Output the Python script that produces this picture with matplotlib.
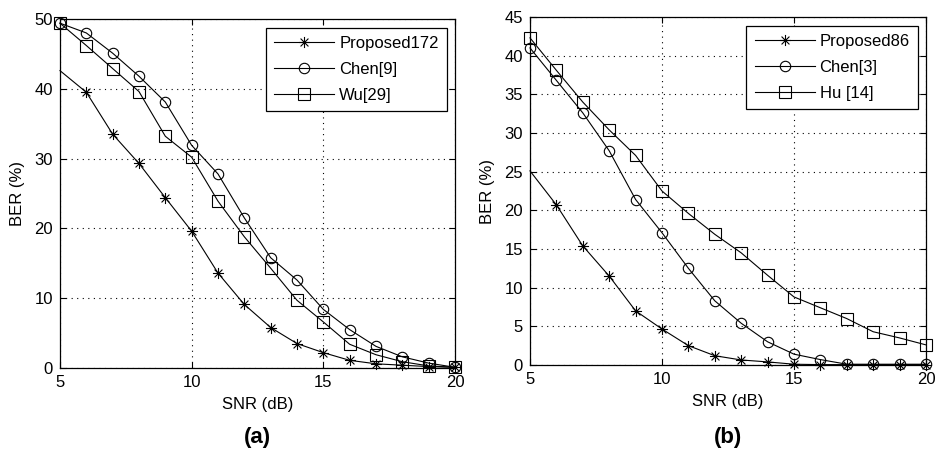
import matplotlib
matplotlib.use("Agg")
import matplotlib.pyplot as plt
from matplotlib.path import Path

plt.rcParams['font.family'] = ['Liberation Sans', 'DejaVu Sans']

snr = list(range(5, 21))

# Panel (a)
a_proposed = [42.6, 39.5, 33.5, 29.3, 24.4, 19.6, 13.6, 9.1, 5.8, 3.5, 2.2, 1.1, 0.6, 0.4, 0.2, 0.1]
a_chen = [49.4, 48.0, 45.1, 41.8, 38.1, 31.9, 27.8, 21.5, 15.8, 12.6, 8.4, 5.5, 3.1, 1.6, 0.7, 0.1]
a_wu = [49.4, 46.2, 42.9, 39.6, 33.2, 30.2, 23.9, 18.8, 14.3, 9.7, 6.6, 3.4, 1.9, 0.9, 0.3, 0.1]
a_labels = ['Proposed172', 'Chen[9]', 'Wu[29]']

# Panel (b)
b_proposed = [25.1, 20.7, 15.4, 11.5, 7.0, 4.65, 2.5, 1.2, 0.65, 0.4, 0.1, 0.05, 0.05, 0.05, 0.05, 0.05]
b_chen = [41.0, 36.8, 32.6, 27.7, 21.4, 17.1, 12.5, 8.3, 5.4, 3.0, 1.4, 0.7, 0.1, 0.1, 0.1, 0.1]
b_hu = [42.3, 38.1, 34.0, 30.4, 27.1, 22.5, 19.6, 16.9, 14.5, 11.6, 8.8, 7.4, 6.0, 4.3, 3.5, 2.6]
b_labels = ['Proposed86', 'Chen[3]', 'Hu [14]']

# MATLAB-style asterisk marker (+ and x combined)
d = 0.7071
ast_verts = [(-1, 0), (1, 0), (0, -1), (0, 1), (-d, -d), (d, d), (-d, d), (d, -d)]
ast_codes = [Path.MOVETO, Path.LINETO] * 4
asterisk = Path(ast_verts, ast_codes)

fig = plt.figure(figsize=(9.38, 4.49), dpi=100)
W, H = 938, 449

def make_ax(left, right, top, bottom, series, labels, ymax, ystep, panel):
    ax = fig.add_axes([left / W, 1 - bottom / H, (right - left) / W, (bottom - top) / H])
    styles = [dict(marker=asterisk, markersize=8, markerfacecolor='none',
                   markevery=list(range(1, len(snr)))),
              dict(marker='o', markersize=7.5, markerfacecolor='none'),
              dict(marker='s', markersize=8, markerfacecolor='none')]
    for ys, lab, st in zip(series, labels, styles):
        ax.plot(snr, ys, color='black', linewidth=0.8, markeredgecolor='black',
                markeredgewidth=0.8, label=lab, clip_on=False, **st)
    ax.set_xlim(5, 20)
    ax.set_ylim(0, ymax)
    ax.set_xticks([5, 10, 15, 20])
    ax.set_yticks(list(range(0, ymax + 1, ystep)))
    ax.grid(True, color='black', linestyle=(0, (1, 4)), linewidth=0.8)
    ax.tick_params(direction='in', top=True, right=True, labelsize=12, length=4, pad=5)
    for sp in ax.spines.values():
        sp.set_linewidth(0.9)
    ax.set_xlabel('SNR (dB)', fontsize=12, labelpad=5)
    ax.set_ylabel('BER (%)', fontsize=12, labelpad=7)
    leg = ax.legend(loc='upper right', fontsize=12, frameon=True, fancybox=False,
                    edgecolor='black', framealpha=1, handlelength=3.6,
                    borderpad=0.5, labelspacing=0.65, handletextpad=0.3,
                    borderaxespad=0, bbox_to_anchor=((right - 8 - left) / (right - left),
                                                      1 - 9 / (bottom - top)))
    leg.get_frame().set_linewidth(0.9)
    fig.text((left + right) / 2 / W, 1 - 437 / H, panel, ha='center', va='center',
             fontsize=16, fontweight='bold')
    return ax

make_ax(60, 455, 19, 368, [a_proposed, a_chen, a_wu], a_labels, 50, 10, '(a)')
make_ax(530, 926, 17, 365, [b_proposed, b_chen, b_hu], b_labels, 45, 5, '(b)')

fig.savefig('out.png', dpi=100)
